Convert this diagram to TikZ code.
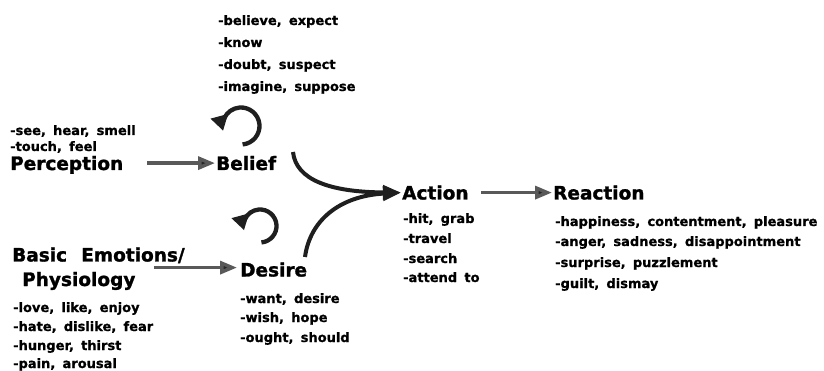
\documentclass[tikz,border=0pt]{standalone}
\usepackage{fontspec}
\setmainfont{DejaVu Sans}
\newfontfamily\itemf{DejaVu Sans}[BoldFeatures={FakeBold=0.9}, WordSpace=1.6]
\newfontfamily\headf{DejaVu Sans}[BoldFeatures={FakeBold=1.4}, WordSpace=2.2]
\usetikzlibrary{arrows.meta}
\tikzset{
  item/.style={anchor=base west, inner sep=0pt, font=\itemf\bfseries\fontsize{13}{15}\selectfont},
  head/.style={anchor=base west, inner sep=0pt, font=\headf\bfseries\fontsize{18.5}{20}\selectfont},
  link/.style={line width=3.5pt, draw=black!65, -{Triangle[length=17pt,width=13pt,fill=black!85]}},
  curvelink/.style={line width=4pt, draw=black!88, -{Triangle[length=18pt,width=14pt,fill=black!88]}},
  selfloop/.style={line width=4.3pt, draw=black!88, -{Triangle[length=15pt,width=17pt,fill=black!88]}}
}
\begin{document}
\begin{tikzpicture}[x=1pt,y=-1pt]
\useasboundingbox (0,0) rectangle (824,371);
% Belief list
\node[item] (b1) at (218,25) {-believe, expect};
\node[item] (b2) at (218,47) {-know};
\node[item] (b3) at (218,69) {-doubt, suspect};
\node[item] (b4) at (218,91) {-imagine, suppose};
% Perception
\node[item] (p1) at (10,135) {-see, hear, smell};
\node[item] (p2) at (10,151) {-touch, feel};
\node[head] (perc) at (10,170) {Perception};
\node[head] (bel) at (216,170) {Belief};
% Action / Reaction
\node[head] (act) at (402,199.5) {Action};
\node[head] (rea) at (553,199.5) {Reaction};
\node[item] (a1) at (403,223) {-hit, grab};
\node[item] (a2) at (403,243) {-travel};
\node[item] (a3) at (403,263) {-search};
\node[item] (a4) at (403,282) {-attend to};
\node[item] (r1) at (555,226) {-happiness, contentment, pleasure};
\node[item] (r2) at (555,246) {-anger, sadness, disappointment};
\node[item] (r3) at (555,267) {-surprise, puzzlement};
\node[item] (r4) at (555,288) {-guilt, dismay};
% Emotions
\node[head] (emo) at (12,261.5) {Basic Emotions/};
\node[head] (phy) at (22,286) {Physiology};
\node[item] (e1) at (13,312) {-love, like, enjoy};
\node[item] (e2) at (13,331) {-hate, dislike, fear};
\node[item] (e3) at (13,350) {-hunger, thirst};
\node[item] (e4) at (13,368) {-pain, arousal};
% Desire
\node[head] (des) at (240,276.5) {Desire};
\node[item] (d1) at (240,303) {-want, desire};
\node[item] (d2) at (240,322) {-wish, hope};
\node[item] (d3) at (240,342) {-ought, should};
% connectors
\draw[link] ([xshift=-69pt]bel.west) -- ([xshift=-1pt]bel.west);
\draw[link] ([xshift=-72pt]rea.west) -- ([xshift=-1pt]rea.west);
\draw[link] ([xshift=-86pt,yshift=2pt]des.west) -- ([xshift=-3pt,yshift=2pt]des.west);
\coordinate (bstart) at (293,152);
\coordinate (dstart) at (305,257);
\coordinate (actin) at ([xshift=-1pt]act.west);
\draw[curvelink] (bstart) .. controls (296,180) and (330,192) .. (actin);
\draw[curvelink] (dstart) .. controls (310,220) and (340,196) .. (actin);
% self loops
\coordinate (bc) at (241,126);
\coordinate (dc) at (260,226);
\draw[selfloop] (bc) ++(85:18.5) arc[start angle=85, end angle=-195, radius=18.5];
\draw[selfloop] (dc) ++(85:16.5) arc[start angle=85, end angle=-195, radius=16.5];
\end{tikzpicture}
\end{document}
